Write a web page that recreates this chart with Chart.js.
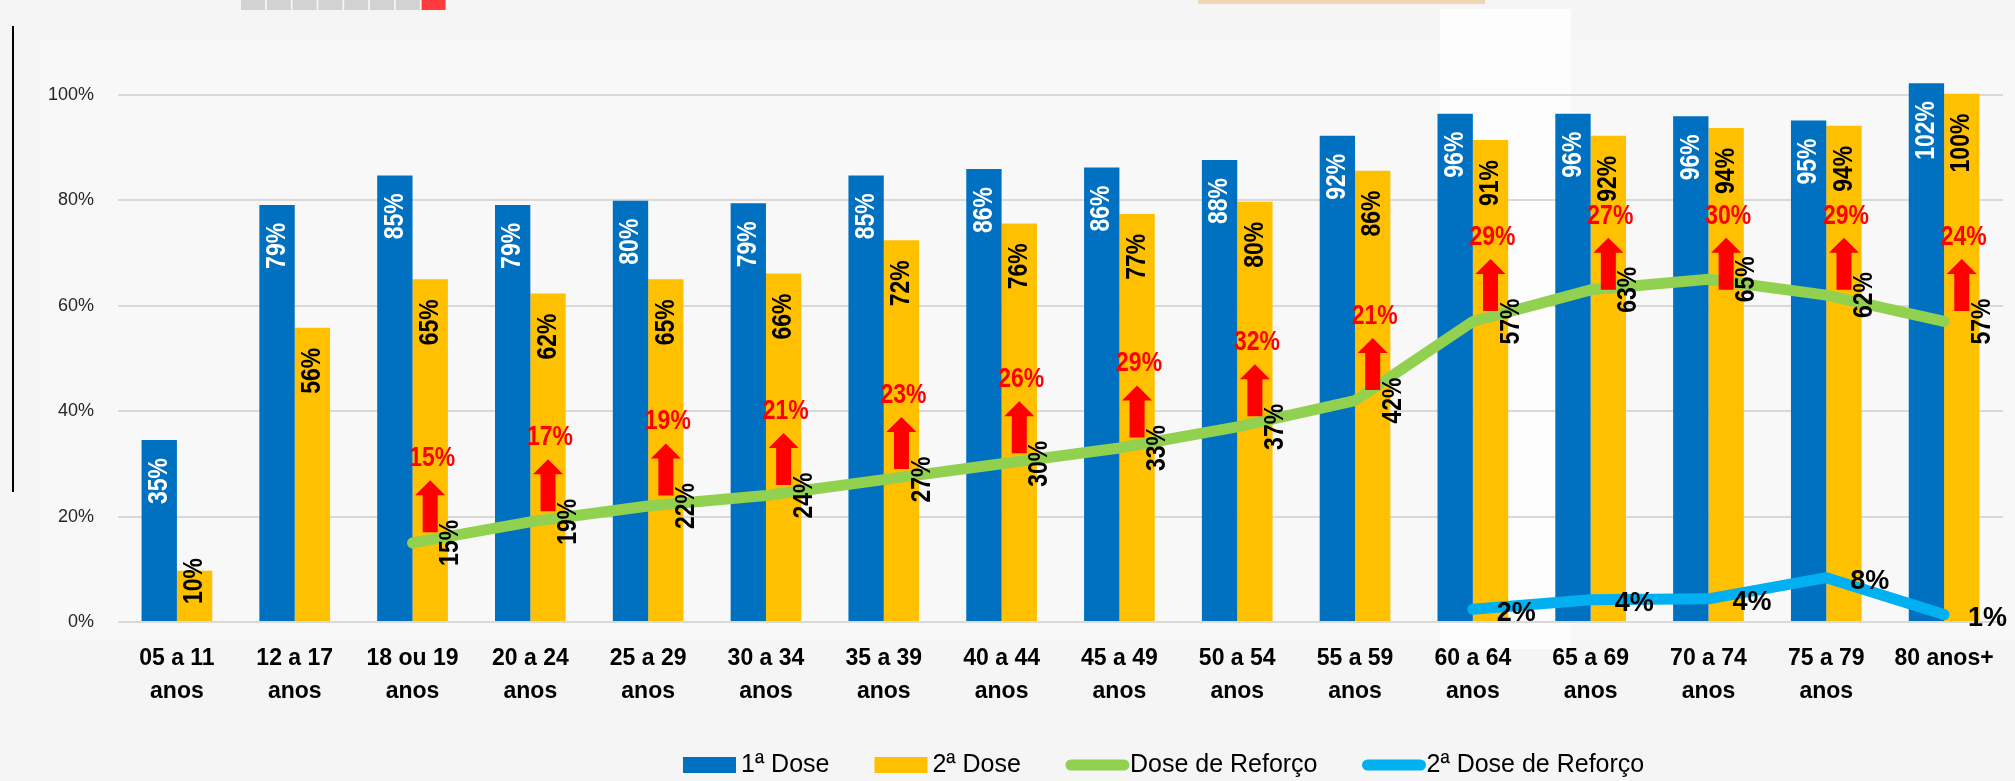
<!DOCTYPE html>
<html>
<head>
<meta charset="utf-8">
<script src="https://cdn.jsdelivr.net/npm/chart.js@4.4.1/dist/chart.umd.min.js"></script>
<style>
  html, body { margin: 0; padding: 0; background: #f5f5f5; }
  #wrap { width: 2015px; height: 781px; }
</style>
</head>
<body>
<div id="wrap"><canvas id="grafico" width="2015" height="781"></canvas></div>
<script>
// faixas etarias
const faixas = [
  ['05 a 11', 'anos'], ['12 a 17', 'anos'], ['18 ou 19', 'anos'], ['20 a 24', 'anos'],
  ['25 a 29', 'anos'], ['30 a 34', 'anos'], ['35 a 39', 'anos'], ['40 a 44', 'anos'],
  ['45 a 49', 'anos'], ['50 a 54', 'anos'], ['55 a 59', 'anos'], ['60 a 64', 'anos'],
  ['65 a 69', 'anos'], ['70 a 74', 'anos'], ['75 a 79', 'anos'], ['80 anos+']
];

// cobertura (%)
const dose1 = [34.5, 79.1, 84.7, 79.1, 79.9, 79.4, 84.7, 85.9, 86.2, 87.6, 92.2, 96.4, 96.4, 95.9, 95.1, 102.2];
const dose2 = [9.7, 55.8, 65.0, 62.3, 65.0, 66.1, 72.4, 75.6, 77.4, 79.7, 85.6, 91.4, 92.2, 93.7, 94.1, 100.2];
const reforco = [null, null, 15, 19, 22, 24, 27, 30, 33, 37, 42, 57, 63, 65, 62, 57];
const reforco2 = [null, null, null, null, null, null, null, null, null, null, null, 2.4, 4.2, 4.4, 8.4, 1.4];
// aumento indicado pelas setas vermelhas
const aumento = [null, null, 15, 17, 19, 21, 23, 26, 29, 32, 21, 29, 27, 30, 29, 24];

const yTicks = [0, 20, 40, 60, 80, 100];

const AZUL = '#0070C0', AMARELO = '#FFC000', VERDE = '#92D050', CIANO = '#00B0F0', VERMELHO = '#FF0000';
const SANS = "'Liberation Sans', Arial, sans-serif";
const ESTREITO = 0.82; // fonte condensada (simula Narrow)
const pct = v => Math.round(v) + '%';

// fundo e detalhes decorativos
const fundo = {
  id: 'fundo',
  beforeDraw(chart) {
    const ctx = chart.ctx;
    ctx.save();
    ctx.fillStyle = '#f5f5f5';
    ctx.fillRect(0, 0, chart.width, chart.height);
    ctx.fillStyle = '#f8f8f8';
    ctx.fillRect(40, 40, 1975, 600);
    ctx.fillStyle = '#fdfdfd';
    ctx.fillRect(1440, 9, 131, 640);
    // quadradinhos no topo
    for (let i = 0; i < 8; i++) {
      ctx.fillStyle = i === 7 ? '#ff3b3b' : '#d2d2d2';
      ctx.fillRect(241 + i * 25.8, 0, 24, 10);
    }
    ctx.fillStyle = '#f0d7b4';
    ctx.fillRect(1198, 0, 287, 4);
    ctx.fillStyle = '#000';
    ctx.fillRect(12, 26, 2, 466);
    ctx.restore();
  }
};

function seta(ctx, x, base, topo) {
  const hw = 15, sw = 7.5, hh = 15;
  ctx.beginPath();
  ctx.moveTo(x - sw, base);
  ctx.lineTo(x - sw, topo + hh);
  ctx.lineTo(x - hw, topo + hh);
  ctx.lineTo(x, topo);
  ctx.lineTo(x + hw, topo + hh);
  ctx.lineTo(x + sw, topo + hh);
  ctx.lineTo(x + sw, base);
  ctx.closePath();
  ctx.fill();
}

function texto(ctx, txt, x, y, align, vertical) {
  ctx.save();
  ctx.translate(x, y);
  if (vertical) ctx.rotate(-Math.PI / 2);
  ctx.scale(ESTREITO, 1);
  ctx.textAlign = align;
  ctx.textBaseline = 'middle';
  ctx.fillText(txt, 0, 0);
  ctx.restore();
}

function rotuloBarra(ctx, txt, b, pad, base) {
  const len = ctx.measureText(txt).width * ESTREITO;
  let topo = b.y + pad;
  if (topo + len > base - 18) topo = base - 18 - len;
  texto(ctx, txt, b.x, topo, 'right', true);
}

const rotulos = {
  id: 'rotulos',
  afterDatasetsDraw(chart) {
    const ctx = chart.ctx;
    const yScale = chart.scales.y;
    const base = yScale.getPixelForValue(0);
    const m1 = chart.getDatasetMeta(0), m2 = chart.getDatasetMeta(1);
    const m3 = chart.getDatasetMeta(2), m4 = chart.getDatasetMeta(3);
    ctx.save();
    ctx.font = 'bold 28px ' + SANS;

    // setas e aumento
    ctx.fillStyle = VERMELHO;
    aumento.forEach((v, i) => {
      if (v == null) return;
      const x = m2.data[i].x;
      const pe = yScale.getPixelForValue(Math.min(reforco[i] + 2, 63));
      const topo = pe - 52;
      seta(ctx, x, pe, topo);
      texto(ctx, pct(v), x + 2, topo - 22, 'center', false);
    });

    // 1a dose
    ctx.fillStyle = '#ffffff';
    dose1.forEach((v, i) => rotuloBarra(ctx, pct(v), m1.data[i], 18, base));
    // 2a dose
    ctx.fillStyle = '#000000';
    dose2.forEach((v, i) => rotuloBarra(ctx, pct(v), m2.data[i], 20, base));
    // reforco
    reforco.forEach((v, i) => {
      if (v == null) return;
      const p = m3.data[i];
      texto(ctx, pct(v), p.x + 38, p.y, 'center', true);
    });
    // 2a dose de reforco
    ctx.font = 'bold 27px ' + SANS;
    ctx.textAlign = 'left';
    ctx.textBaseline = 'middle';
    reforco2.forEach((v, i) => {
      if (v == null) return;
      const p = m4.data[i];
      ctx.fillText(pct(v), p.x + 24, p.y + 4);
    });
    ctx.restore();
  }
};

const legenda = {
  id: 'legenda',
  afterDraw(chart) {
    const ctx = chart.ctx;
    const yc = 765;
    let x = 683;
    ctx.save();
    ctx.font = '25px ' + SANS;
    ctx.textBaseline = 'middle';
    ctx.textAlign = 'left';
    chart.data.datasets.forEach(ds => {
      if (ds.type === 'line') {
        ctx.strokeStyle = ds.borderColor;
        ctx.lineWidth = 11;
        ctx.lineCap = 'round';
        ctx.beginPath();
        ctx.moveTo(x + 5, yc);
        ctx.lineTo(x + 58, yc);
        ctx.stroke();
        x += 64;
      } else {
        ctx.fillStyle = ds.backgroundColor;
        ctx.fillRect(x, yc - 8, 53, 16);
        x += 58;
      }
      ctx.fillStyle = '#000';
      ctx.fillText(ds.label, x, yc);
      x += ctx.measureText(ds.label).width + 45;
    });
    ctx.restore();
  }
};

new Chart(document.getElementById('grafico'), {
  type: 'bar',
  data: {
    labels: faixas,
    datasets: [
      { label: '1ª Dose', data: dose1, backgroundColor: AZUL, order: 1,
        categoryPercentage: 0.6, barPercentage: 1.0 },
      { label: '2ª Dose', data: dose2, backgroundColor: AMARELO, order: 1,
        categoryPercentage: 0.6, barPercentage: 1.0 },
      { type: 'line', label: 'Dose de Reforço', data: reforco, borderColor: VERDE, backgroundColor: VERDE,
        borderWidth: 11, borderCapStyle: 'round', borderJoinStyle: 'round', pointRadius: 0, tension: 0, order: 0 },
      { type: 'line', label: '2ª Dose de Reforço', data: reforco2, borderColor: CIANO, backgroundColor: CIANO,
        borderWidth: 11, borderCapStyle: 'round', borderJoinStyle: 'round', pointRadius: 0, tension: 0, order: 0 }
    ]
  },
  options: {
    responsive: false,
    animation: false,
    layout: { padding: { top: 42, right: 12, bottom: 59, left: 0 } },
    plugins: {
      legend: { display: false },
      tooltip: { enabled: false }
    },
    scales: {
      x: {
        afterFit: s => { s.height = 100; },
        ticks: {
          padding: 20, color: '#000', autoSkip: false, maxRotation: 0,
          font: { family: SANS, size: 23, weight: 'bold', lineHeight: 1.45 }
        },
        grid: { display: false, drawTicks: false },
        border: { display: false }
      },
      y: {
        min: 0,
        max: 110,
        afterFit: s => { s.width = 118; },
        afterBuildTicks: s => { s.ticks = yTicks.map(v => ({ value: v })); },
        ticks: {
          padding: 24, color: '#262626',
          callback: v => v + '%',
          font: { family: SANS, size: 18 }
        },
        grid: { color: '#d9d9d9', lineWidth: 2, drawTicks: false },
        border: { display: false }
      }
    }
  },
  plugins: [fundo, rotulos, legenda]
});
</script>
</body>
</html>
